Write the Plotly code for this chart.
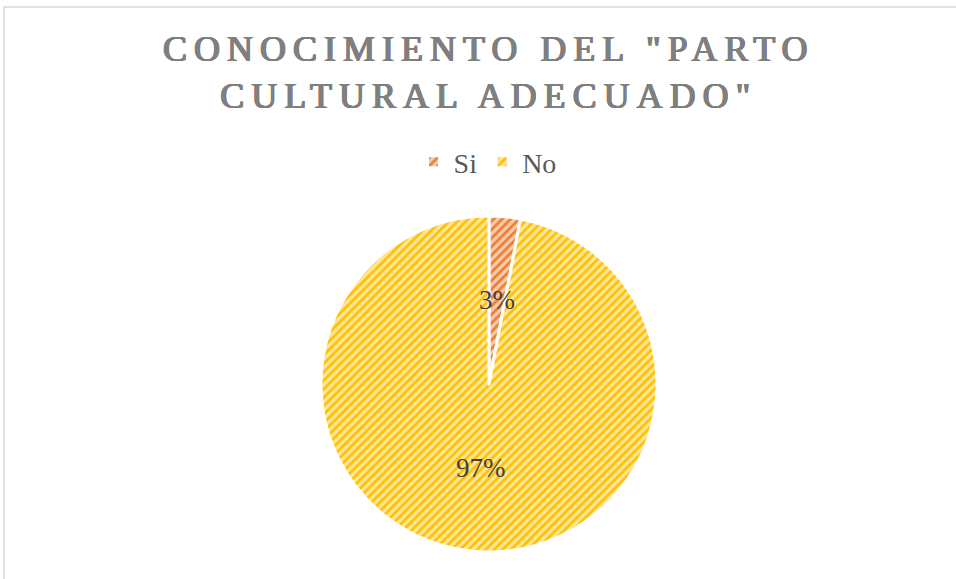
import math
import plotly.graph_objects as go

labels = ["Si", "No"]
values = [3, 97]
fg_colors = ["#ED7D31", "#FFC000"]
bg_colors = ["#F8CBAD", "#FFE699"]
title_lines = ['CONOCIMIENTO DEL "PARTO', 'CULTURAL ADECUADO"']

W, H = 956, 579
cx, cy, r = 489, 384, 168
SERIF = "Liberation Serif"
TITLE_COLOR = "#7F7F7F"

fig = go.Figure()
fig.add_trace(go.Pie(
    labels=labels, values=values, sort=False, direction="clockwise", rotation=0,
    textinfo="none", hoverinfo="skip",
    marker=dict(colors=bg_colors, line=dict(color="white", width=3),
                pattern=dict(shape="/", fgcolor=fg_colors, bgcolor=bg_colors, size=6, solidity=0.45)),
    domain=dict(x=[(cx - r) / W, (cx + r) / W], y=[(H - cy - r) / H, (H - cy + r) / H]),
))

total = sum(values)
cum = 0
annotations = []
for v in values:
    mid = (cum + v / 2) / total * 2 * math.pi
    cum += v
    px = cx + 0.5 * r * math.sin(mid)
    py = cy - 0.5 * r * math.cos(mid)
    annotations.append(dict(x=px / W, y=1 - py / H, xref="paper", yref="paper",
                            xanchor="center", yanchor="middle",
                            text=f"{round(v / total * 100)}%", showarrow=False,
                            font=dict(family=SERIF, size=27, color="#404040")))

title_text = "<br>".join(f'<span style="letter-spacing:7px">{t}</span>' for t in title_lines)
shadow = ", ".join(f"{dx}px {dy}px 0 {TITLE_COLOR}" for dx, dy in
                   [(0.7, 0), (-0.7, 0), (0, 0.4), (0.4, 0.3), (-0.4, 0.3)])
annotations.append(dict(x=0.512, y=1 - 73 / H, xref="paper", yref="paper", text=title_text,
                        showarrow=False, align="center", yanchor="middle",
                        font=dict(family=SERIF, size=36, color=TITLE_COLOR, shadow=shadow)))

fig.update_layout(
    width=W, height=H, margin=dict(l=0, r=0, t=0, b=0),
    paper_bgcolor="white", plot_bgcolor="white",
    font=dict(family=SERIF),
    showlegend=True,
    legend=dict(orientation="h", x=0.51, xanchor="center", y=1 - 162 / H, yanchor="middle",
                font=dict(family=SERIF, size=28, color="#595959"), itemwidth=30),
    annotations=annotations,
    shapes=[
        dict(type="line", xref="paper", yref="paper", x0=4 / W, x1=1.01, y0=1 - 7 / H, y1=1 - 7 / H,
             line=dict(color="#D9D9D9", width=1.5)),
        dict(type="line", xref="paper", yref="paper", x0=4 / W, x1=4 / W, y0=-0.01, y1=1 - 7 / H,
             line=dict(color="#D9D9D9", width=1.5)),
    ],
)

fig.write_html("out.html")
